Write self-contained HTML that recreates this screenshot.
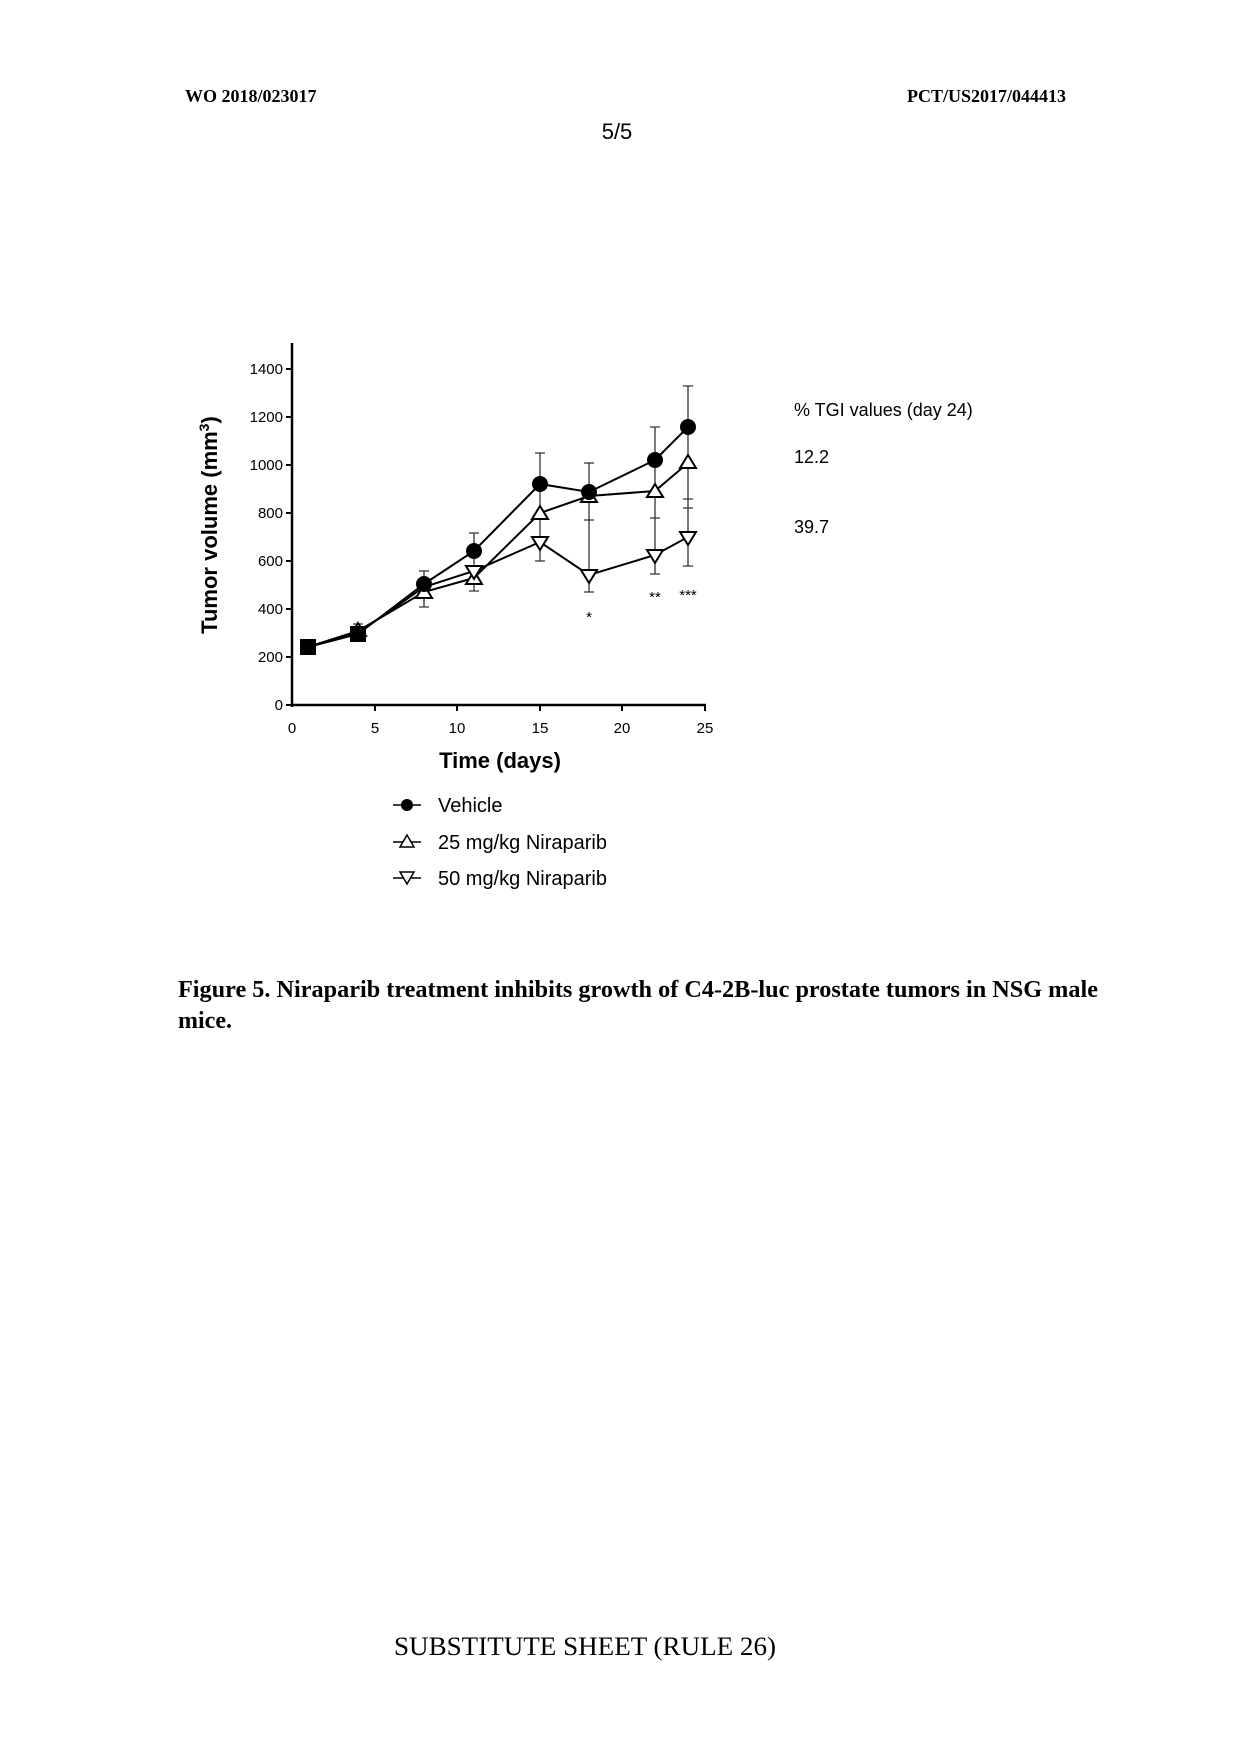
<!DOCTYPE html>
<html><head><meta charset="utf-8"><style>
html,body{margin:0;padding:0;background:#fff;}
svg{display:block}
</style></head><body>
<svg width="1240" height="1753" viewBox="0 0 1240 1753" xmlns="http://www.w3.org/2000/svg">
<g font-family="Liberation Serif, serif" fill="#000">
<text x="185" y="102" font-size="18" font-weight="bold">WO 2018/023017</text>
<text x="1066" y="102" font-size="18" font-weight="bold" text-anchor="end">PCT/US2017/044413</text>
<text x="617" y="139" font-size="22" text-anchor="middle" font-family="Liberation Sans, sans-serif">5/5</text>
<text x="178" y="997" font-size="24" font-weight="bold" textLength="920" lengthAdjust="spacingAndGlyphs">Figure 5. Niraparib treatment inhibits growth of C4-2B-luc prostate tumors in NSG male</text>
<text x="178" y="1028" font-size="24" font-weight="bold">mice.</text>
<text x="585" y="1655" font-size="26" text-anchor="middle" textLength="382" lengthAdjust="spacingAndGlyphs">SUBSTITUTE SHEET (RULE 26)</text>
</g>
<g font-family="Liberation Sans, sans-serif" fill="#000" stroke="#000">
<line x1="292" y1="343" x2="292" y2="707" stroke-width="2.5"/>
<line x1="291" y1="705" x2="706" y2="705" stroke-width="2.5"/>
<g stroke-width="2">
<line x1="286" y1="705" x2="292" y2="705"/><line x1="286" y1="657" x2="292" y2="657"/><line x1="286" y1="609" x2="292" y2="609"/><line x1="286" y1="561" x2="292" y2="561"/><line x1="286" y1="513" x2="292" y2="513"/><line x1="286" y1="465" x2="292" y2="465"/><line x1="286" y1="417" x2="292" y2="417"/><line x1="286" y1="369" x2="292" y2="369"/>
<line x1="375" y1="705" x2="375" y2="711"/><line x1="457" y1="705" x2="457" y2="711"/><line x1="540" y1="705" x2="540" y2="711"/><line x1="622" y1="705" x2="622" y2="711"/><line x1="705" y1="705" x2="705" y2="711"/>
</g>
<g stroke="none" font-size="15" text-anchor="end">
<text x="283" y="710">0</text><text x="283" y="662">200</text><text x="283" y="614">400</text><text x="283" y="566">600</text><text x="283" y="518">800</text><text x="283" y="470">1000</text><text x="283" y="422">1200</text><text x="283" y="374">1400</text>
</g>
<g stroke="none" font-size="15" text-anchor="middle">
<text x="292" y="733">0</text><text x="375" y="733">5</text><text x="457" y="733">10</text><text x="540" y="733">15</text><text x="622" y="733">20</text><text x="705" y="733">25</text>
</g>
<text stroke="none" x="500" y="768" font-size="22" font-weight="bold" text-anchor="middle">Time (days)</text>
<text stroke="none" font-size="22" font-weight="bold" text-anchor="middle" transform="translate(217,525) rotate(-90)">Tumor volume (mm<tspan dy="-8" font-size="14">3</tspan><tspan dy="8">)</tspan></text>

<g stroke-width="1.3" fill="none" stroke="#333">
<path d="M540 453V561M535 453h10M535 561h10"/>
<path d="M589 463V520M584 463h10M584 520h10M589 520V592M584 592h10"/>
<path d="M655 427V574M650 427h10M650 518h10M650 574h10"/>
<path d="M688 386V566M683 386h10M683 499h10M683 566h10M683 508h10"/>
<path d="M474 533V591M469 533h10M469 591h10"/>
<path d="M424 571V607M419 571h10M419 607h10"/>
<path d="M358 624V641M353 624h10M353 641h10"/>
<path d="M308 641V654M304 641h8M304 654h8"/>
</g>
<g fill="none" stroke-width="2">
<polyline points="308,647 358,634 424,584 474,551 540,484 589,492 655,460 688,427"/>
<polyline points="308,647 358,631 424,592 474,578 540,513 589,496 655,491 688,463"/>
<polyline points="308,647 358,633 424,587 474,571 540,542 589,575 655,555 688,537"/>
</g>
<g stroke-width="2" fill="#fff">
<path d="M358 623l8 13h-16z M424 585l8 13h-16z M474 571l8 13h-16z M540 506l8 13h-16z M589 489l8 13h-16z M655 484l8 13h-16z M688 455l8 13h-16z"/>
<path d="M540 550l8 -13h-16z M589 583l8 -13h-16z M655 563l8 -13h-16z M688 545l8 -13h-16z M474 579l8 -13h-16z"/>
</g>
<g fill="#000" stroke="none">
<rect x="300" y="639" width="16" height="16"/><rect x="350" y="626" width="16" height="16"/>
<circle cx="424" cy="584" r="8"/><circle cx="474" cy="551" r="8"/><circle cx="540" cy="484" r="8"/><circle cx="589" cy="492" r="8"/><circle cx="655" cy="460" r="8"/><circle cx="688" cy="427" r="8"/>
</g>
<g stroke="none" font-size="15">
<text x="589" y="622" text-anchor="middle">*</text>
<text x="655" y="602" text-anchor="middle">**</text>
<text x="688" y="600" text-anchor="middle">***</text>
</g>
<g stroke="none" font-size="18">
<text x="794" y="416">% TGI values (day 24)</text>
<text x="794" y="463">12.2</text>
<text x="794" y="533">39.7</text>
</g>
<g stroke-width="1.5">
<line x1="393" y1="805" x2="421" y2="805"/><circle cx="407" cy="805" r="6" stroke="none"/>
<line x1="393" y1="842" x2="421" y2="842"/><path d="M407 835l7 12h-14z" fill="#fff"/>
<line x1="393" y1="878" x2="421" y2="878"/><path d="M407 884l7 -12h-14z" fill="#fff"/>
</g>
<g stroke="none" font-size="20">
<text x="438" y="812">Vehicle</text>
<text x="438" y="849">25 mg/kg Niraparib</text>
<text x="438" y="885">50 mg/kg Niraparib</text>
</g>
</g>
</svg>
</body></html>
